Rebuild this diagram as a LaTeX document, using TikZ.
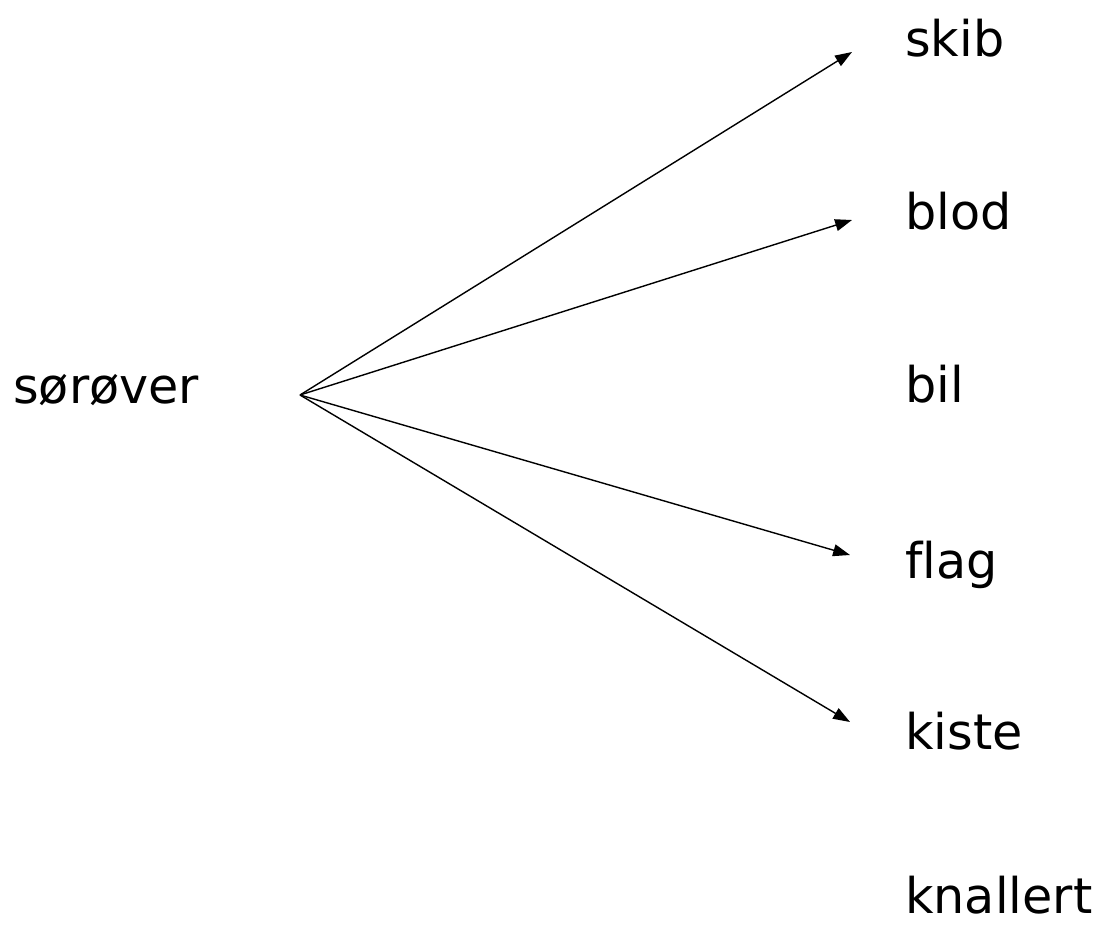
\documentclass[tikz,border=0pt]{standalone}
\usepackage{fontspec}
\setmainfont[Ligatures=NoCommon]{DejaVu Sans}
\usetikzlibrary{arrows.meta}
\begin{document}
\begin{tikzpicture}[
    x=0.025cm, y=-0.025cm,
    word/.style={anchor=base west,inner sep=0pt,font=\fontsize{35}{42}\selectfont},
    link/.style={line width=1pt,-{Triangle[length=12pt,width=8.5pt]}},
  ]
  \useasboundingbox (0,0) rectangle (1101,928);

  % Source word
  \node[word] (soroever) at (13,403) {sørøver};
  \coordinate (src) at (300,395);

  % Associations
  \node[word] (skib) at (905,56) {skib};
  \node[word] (blod) at (905,229) {blod};
  \node[word] (bil) at (905,402) {bil};
  \node[word] (flag) at (905,578) {flag};
  \node[word] (kiste) at (905,749) {kiste};
  \node[word] (knallert) at (905,913) {knallert};

  % Arrow ends in front of the words
  \coordinate (to-skib) at (852,52);
  \coordinate (to-blod) at (852,220);
  \coordinate (to-flag) at (850,555);
  \coordinate (to-kiste) at (850,722);

  \foreach \t in {skib,blod,flag,kiste}
    \draw[link] (src) -- (to-\t);
\end{tikzpicture}
\end{document}
